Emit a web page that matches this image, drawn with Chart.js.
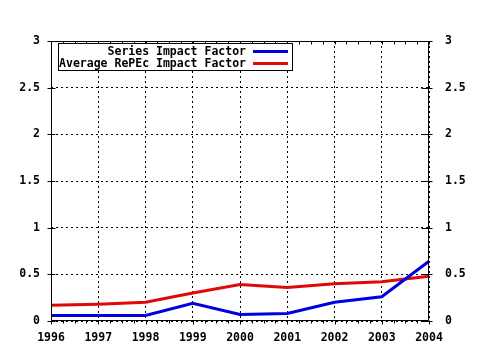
<!DOCTYPE html>
<html><head><meta charset="utf-8">
<script src="https://cdn.jsdelivr.net/npm/chart.js@4.4.0/dist/chart.umd.min.js"></script>
<style>html,body{margin:0;padding:0;background:#fff}canvas{display:block}</style>
</head><body>
<canvas id="c" width="480" height="350"></canvas>
<script>
const years = ['1996','1997','1998','1999','2000','2001','2002','2003','2004'];
const seriesImpact = [0.06,0.06,0.06,0.19,0.07,0.08,0.20,0.26,0.64];
const avgImpact = [0.17,0.18,0.20,0.30,0.39,0.36,0.40,0.42,0.48];
const yTicks = [0,0.5,1,1.5,2,2.5,3];
const seriesNames = ['Series Impact Factor','Average RePEc Impact Factor'];
const seriesColors = ['#0000e0','#e00808'];

const FONT = {family:'"DejaVu Sans Mono", "Liberation Mono", monospace', size:11.5, weight:'bold'};
const FONTSTR = 'bold 11.5px "DejaVu Sans Mono", "Liberation Mono", monospace';

const framePlugin = {
  id:'frame',
  afterDraw(chart){
    const ctx = chart.ctx, a = chart.chartArea;
    const xs = chart.scales.x, ys = chart.scales.y;
    ctx.save();
    ctx.strokeStyle = '#000'; ctx.lineWidth = 1;
    const L = Math.round(a.left)+0.5, R = Math.round(a.right)-0.5, T = Math.round(a.top)+0.5, B = Math.round(a.bottom)-0.5;
    ctx.beginPath();
    ctx.moveTo(L,T); ctx.lineTo(R,T);
    ctx.moveTo(L,B); ctx.lineTo(R,B);
    ctx.moveTo(L,T); ctx.lineTo(L,B);
    ctx.moveTo(R,T); ctx.lineTo(R,B);
    // y major ticks
    yTicks.forEach(v=>{
      const y = Math.round(ys.getPixelForValue(v))+0.5;
      ctx.moveTo(L-4,y); ctx.lineTo(L+4,y);
      ctx.moveTo(R-7,y); ctx.lineTo(R+4,y);
    });
    // x ticks (major + minor quarters)
    for(let i=0;i<years.length;i++){
      const x0 = xs.getPixelForValue(i);
      const x = Math.round(x0)+0.5;
      ctx.moveTo(x,B); ctx.lineTo(x,B+4);
      ctx.moveTo(x,T); ctx.lineTo(x,T+3);
      if(i<years.length-1){
        const x1 = xs.getPixelForValue(i+1);
        for(let k=1;k<4;k++){
          const xm = Math.round(x0+(x1-x0)*k/4)+0.5;
          ctx.moveTo(xm,B); ctx.lineTo(xm,B+3);
          ctx.moveTo(xm,T); ctx.lineTo(xm,T+3);
        }
      }
    }
    ctx.stroke();
    // legend
    const bx=58.5, by=43.5, bw=234, bh=27;
    ctx.fillStyle='#fff'; ctx.fillRect(bx,by,bw,bh);
    ctx.strokeRect(bx,by,bw,bh);
    ctx.font = FONTSTR; ctx.fillStyle='#000';
    ctx.textAlign='right'; ctx.textBaseline='middle';
    seriesNames.forEach((n,i)=>{
      const y = 51.5 + i*12;
      ctx.fillText(n, 246, y+0.5);
      ctx.strokeStyle = seriesColors[i]; ctx.lineWidth=3;
      ctx.beginPath(); ctx.moveTo(253,y); ctx.lineTo(288,y); ctx.stroke();
    });
    ctx.restore();
  }
};

new Chart(document.getElementById('c'), {
  type:'line',
  data:{
    labels: years,
    datasets:[
      {label:seriesNames[0], data:seriesImpact, borderColor:seriesColors[0], borderWidth:3, pointRadius:0, tension:0, fill:false},
      {label:seriesNames[1], data:avgImpact, borderColor:seriesColors[1], borderWidth:3, pointRadius:0, tension:0, fill:false}
    ]
  },
  options:{
    responsive:false, animation:false, devicePixelRatio:1,
    layout:{padding:{top:41,left:0,right:0,bottom:0}},
    plugins:{legend:{display:false}, tooltip:{enabled:false}},
    scales:{
      x:{
        type:'category', offset:false,
        grid:{display:true, color:'#000', lineWidth:1, drawTicks:false},
        border:{display:false, dash:[2,3]},
        ticks:{font:FONT, color:'#000', padding:10, maxRotation:0, autoSkip:false},
        afterFit(s){ s.height = 29; }
      },
      y:{
        position:'left', min:0, max:3,
        afterBuildTicks(s){ s.ticks = yTicks.map(v=>({value:v})); },
        grid:{display:true, color:'#000', lineWidth:1, drawTicks:false},
        border:{display:false, dash:[2,3]},
        ticks:{font:FONT, color:'#000', padding:11, callback:v=>String(v)},
        afterFit(s){ s.width = 51; }
      },
      y2:{
        position:'right', min:0, max:3,
        afterBuildTicks(s){ s.ticks = yTicks.map(v=>({value:v})); },
        grid:{display:true, drawOnChartArea:false, drawTicks:false},
        border:{display:false},
        ticks:{font:FONT, color:'#000', padding:16, callback:v=>String(v)},
        afterFit(s){ s.width = 51; }
      }
    }
  },
  plugins:[framePlugin]
});
</script>
</body></html>
